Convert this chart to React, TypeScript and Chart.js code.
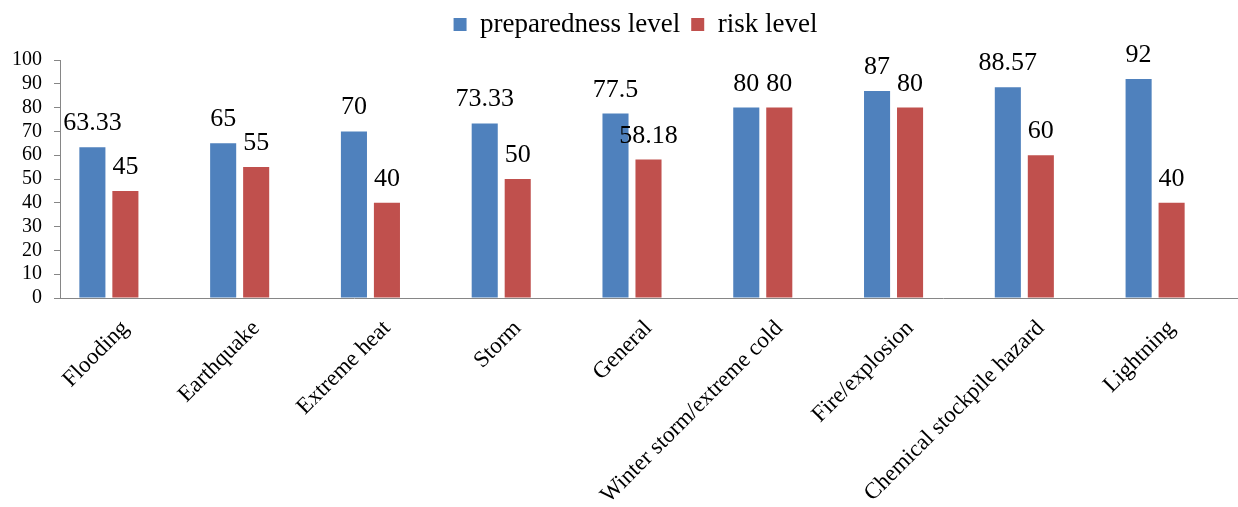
import { useEffect, useRef } from "react";
import { Chart, registerables, Plugin } from "chart.js";

Chart.register(...registerables);

const categories = [
  "Flooding",
  "Earthquake",
  "Extreme heat",
  "Storm",
  "General",
  "Winter storm/extreme cold",
  "Fire/explosion",
  "Chemical stockpile hazard",
  "Lightning",
];
const preparednessLevel = [63.33, 65, 70, 73.33, 77.5, 80, 87, 88.57, 92];
const riskLevel = [45, 55, 40, 50, 58.18, 80, 80, 60, 40];
// the source chart keeps an empty third series, which shifts the pairs left
const emptySeries = [null, null, null, null, null, null, null, null, null];
const yTicks = [0, 10, 20, 30, 40, 50, 60, 70, 80, 90, 100];

const SERIF = "'Liberation Serif', 'Times New Roman', serif";
const AXIS_GREY = "#868686";

// value labels above each bar
const valueLabels: Plugin<"bar"> = {
  id: "valueLabels",
  afterDatasetsDraw(chart) {
    const ctx = chart.ctx;
    ctx.save();
    ctx.font = `26px ${SERIF}`;
    ctx.fillStyle = "#000";
    ctx.textAlign = "center";
    ctx.textBaseline = "alphabetic";
    chart.data.datasets.forEach((ds, i) => {
      const meta = chart.getDatasetMeta(i);
      meta.data.forEach((bar, j) => {
        const v = ds.data[j] as number | null;
        if (v === null || v === undefined) return;
        ctx.fillText(String(v), bar.x, bar.y - 17);
      });
    });
    ctx.restore();
  },
};

// pin legend height so the plot top lands where the source has it,
// and nudge it right so it centres over the plot like the original
const legendLayout: Plugin<"bar"> = {
  id: "legendLayout",
  beforeInit(chart: any) {
    const legend = chart.legend;
    if (!legend) return;
    const fit = legend.fit;
    legend.fit = function () {
      fit.call(this);
      this.height = 60;
    };
  },
  afterLayout(chart: any) {
    if (chart.legend) chart.legend.left += 34;
  },
};

export default function App() {
  const chartRef = useRef<HTMLCanvasElement>(null);
  const chartInstance = useRef<Chart<"bar"> | null>(null);

  useEffect(() => {
    document.body.style.margin = "0";
    if (!chartRef.current) return;
    if (chartInstance.current) {
      chartInstance.current.destroy();
    }
    const ctx = chartRef.current.getContext("2d");
    if (!ctx) return;

    chartInstance.current = new Chart(ctx, {
      type: "bar",
      data: {
        labels: categories,
        datasets: [
          {
            label: "preparedness level",
            data: preparednessLevel,
            backgroundColor: "#4F81BD",
            borderWidth: 0,
          },
          {
            label: "risk level",
            data: riskLevel,
            backgroundColor: "#C0504D",
            borderWidth: 0,
          },
          {
            label: "",
            data: emptySeries,
            backgroundColor: "transparent",
          },
        ],
      },
      options: {
        animation: false,
        responsive: true,
        maintainAspectRatio: false,
        datasets: {
          bar: {
            categoryPercentage: 0.757,
            barPercentage: 0.79,
          },
        },
        layout: {
          padding: { left: 0, right: 1, top: 0, bottom: 0 },
        },
        plugins: {
          legend: {
            position: "top",
            labels: {
              font: { family: SERIF, size: 27 },
              color: "#000",
              boxWidth: 13,
              boxHeight: 13,
              padding: 11,
              filter: (item) => item.text !== "",
            },
          },
          tooltip: { enabled: false },
        },
        scales: {
          x: {
            grid: { display: false, drawTicks: false },
            border: { display: true, color: AXIS_GREY, width: 1 },
            ticks: {
              font: { family: SERIF, size: 23 },
              color: "#000",
              maxRotation: 45,
              minRotation: 45,
              autoSkip: false,
              padding: 17,
            },
            afterFit(scale) {
              scale.height = 209;
            },
          },
          y: {
            min: 0,
            max: 100,
            afterBuildTicks(scale) {
              scale.ticks = yTicks.map((v) => ({ value: v }));
            },
            grid: {
              drawOnChartArea: false,
              drawTicks: true,
              tickLength: 6,
              color: AXIS_GREY,
            },
            border: { display: true, color: AXIS_GREY, width: 1 },
            ticks: {
              font: { family: SERIF, size: 20 },
              color: "#000",
              padding: 12,
              autoSkip: false,
            },
            afterFit(scale) {
              scale.width = 60;
            },
          },
        },
      },
      plugins: [valueLabels, legendLayout],
    });

    return () => {
      if (chartInstance.current) {
        chartInstance.current.destroy();
        chartInstance.current = null;
      }
    };
  }, []);

  return (
    <div style={{ position: "relative", width: 1238, height: 507 }}>
      <canvas ref={chartRef}></canvas>
    </div>
  );
}
